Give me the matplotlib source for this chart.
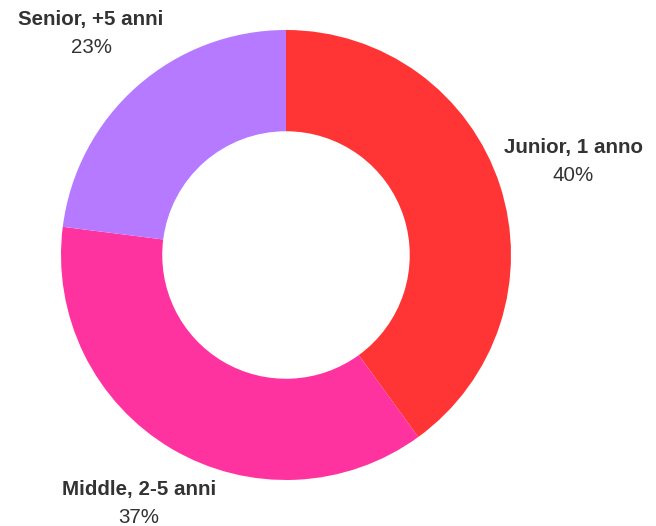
import numpy as np
import matplotlib.pyplot as plt

plt.rcParams['font.family'] = ['Liberation Sans', 'DejaVu Sans']

labels = ['Junior, 1 anno', 'Middle, 2-5 anni', 'Senior, +5 anni']
shares = [40, 37, 23]
colors = ['#FF3535', '#FF33A0', '#B57AFF']

W, H = 656, 526
fig = plt.figure(figsize=(W / 100, H / 100), dpi=100)
ax = fig.add_axes([0, 0, 1, 1])

cx, cy, R = 286, 271, 225
wedges, _ = ax.pie(shares, colors=colors, startangle=90, counterclock=False,
                   center=(cx, cy), radius=R, frame=True,
                   wedgeprops=dict(width=R * 0.45, linewidth=0))
ax.set_xlim(0, W)
ax.set_ylim(0, H)
ax.set_aspect('equal')
ax.axis('off')

fig.canvas.draw()
renderer = fig.canvas.get_renderer()
gap = 4
line_gap = 28
for w, lab, s in zip(wedges, labels, shares):
    ang = np.deg2rad((w.theta1 + w.theta2) / 2)
    ux, uy = np.cos(ang), np.sin(ang)
    t = ax.text(0, 0, lab, fontsize=14.8, fontweight='bold', color='#333333',
                ha='center', va='center')
    t2 = ax.text(0, 0, f'{s}%', fontsize=14.8, color='#333333',
                 ha='center', va='center')
    bb = t.get_window_extent(renderer)
    hw, hh = bb.width / 2, (bb.height + line_gap) / 2
    d = R + gap + hw * abs(ux) + hh * abs(uy)
    x, y = cx + d * ux, cy + d * uy
    t.set_position((x, y + line_gap / 2))
    t2.set_position((x, y - line_gap / 2))

fig.savefig('out.png', dpi=100)
